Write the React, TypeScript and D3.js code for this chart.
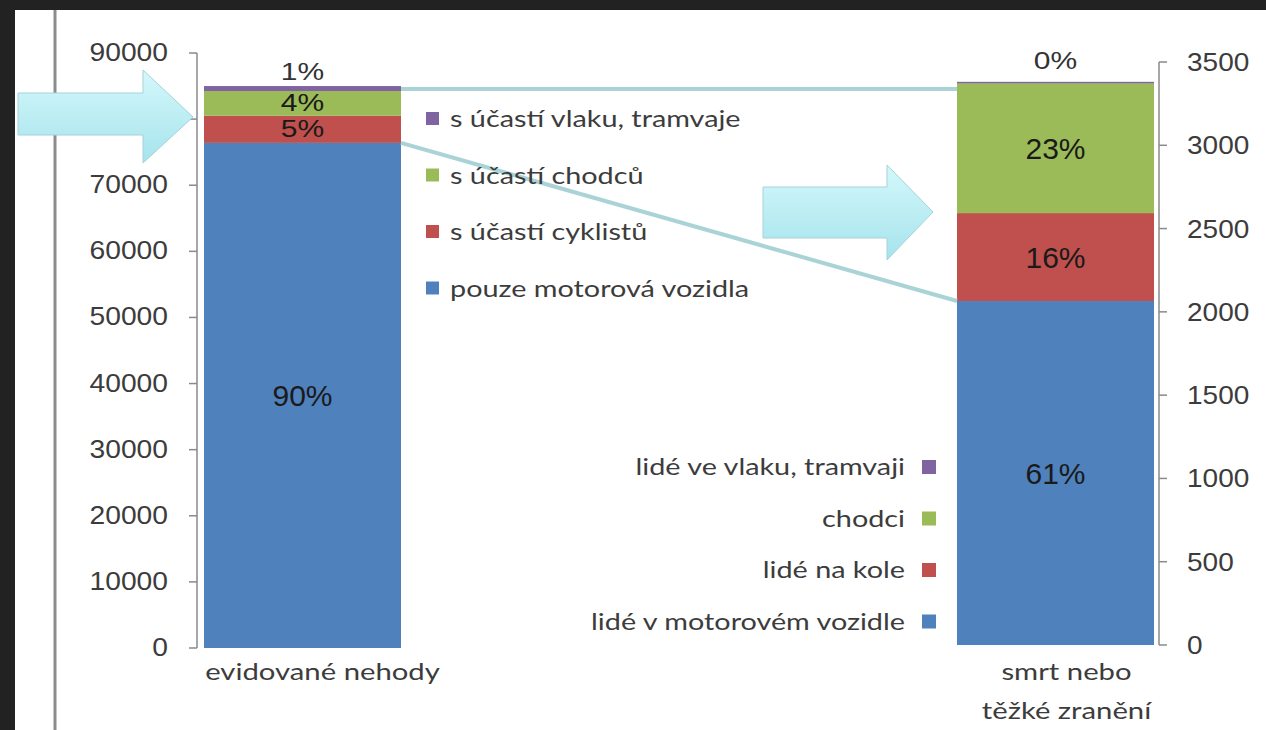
import React from 'react';
import * as d3 from 'd3';

// ---------- data ----------
const categories = ['evidované nehody', 'smrt nebo těžké zranění'];
const categoryLines = [['evidované nehody'], ['smrt nebo', 'těžké zranění']];
const seriesKeys = ['motor', 'cyklisti', 'chodci', 'vlak'];
const accidentsValues = [76400, 4100, 3750, 750];
const casualtiesValues = [2065, 528, 780, 8];
const accidentsPct = ['90%', '5%', '4%', '1%'];
const casualtiesPct = ['61%', '16%', '23%', '0%'];
const leftTicks = [0, 10000, 20000, 30000, 40000, 50000, 60000, 70000, 80000, 90000];
const rightTicks = [0, 500, 1000, 1500, 2000, 2500, 3000, 3500];
const legendLeftLabels = ['s účastí vlaku, tramvaje', 's účastí chodců', 's účastí cyklistů', 'pouze motorová vozidla'];
const legendRightLabels = ['lidé ve vlaku, tramvaji', 'chodci', 'lidé na kole', 'lidé v motorovém vozidle'];
const colors = ['#4f81bd', '#c0504d', '#9bbb59', '#8064a2'];

// ---------- layout ----------
const W = 1266, H = 730;
const yLeft = d3.scaleLinear().domain([0, 90000]).range([648, 53]);
const yRight = d3.scaleLinear().domain([0, 3500]).range([645, 62]);
const xScale = d3.scalePoint<string>().domain(categories).range([302.5, 1055.5]);
const barW = 197;
const leftAxisX = 197;
const rightAxisX = 1159;
const axisColor = '#8a8a8a';
const textColor = '#3c3c3c';
const numFont = '"Liberation Sans", Arial, sans-serif';
const lblFont = 'Lato, "Open Sans", sans-serif';
const lblScale = 1.2;

function stackOf(values: number[]) {
  const row: Record<string, number> = {};
  seriesKeys.forEach((k, i) => (row[k] = values[i]));
  return d3.stack<Record<string, number>>().keys(seriesKeys)([row]);
}

const arrow1 = [[18, 93], [143, 93], [143, 70], [193, 117], [143, 163], [143, 135], [18, 135]];
const arrow2 = [[763, 187], [887, 187], [887, 165], [933, 212], [887, 260], [887, 238], [763, 238]];

export default function App() {
  const bars = [
    { cat: categories[0], stack: stackOf(accidentsValues), y: yLeft, pct: accidentsPct, topOff: 6 },
    { cat: categories[1], stack: stackOf(casualtiesValues), y: yRight, pct: casualtiesPct, topOff: 13 },
  ];
  const line = d3.line();
  const lx = xScale(categories[0])! + barW / 2;
  const rx = xScale(categories[1])! - barW / 2;
  const leftTotal = d3.sum(accidentsValues);
  const topY = yLeft(leftTotal) + 3;

  return (
    <svg width={W} height={H} style={{ position: 'fixed', left: 0, top: 0 }}>
      <defs>
        <linearGradient id="arrowGrad" x1="0" y1="0" x2="0" y2="1">
          <stop offset="0" stopColor="#d4f8fb" />
          <stop offset="1" stopColor="#a6e3ec" />
        </linearGradient>
      </defs>
      <rect x={0} y={0} width={W} height={H} fill="#222222" />
      <rect x={15} y={10} width={W - 15} height={H - 10} fill="#ffffff" />
      <line x1={55} x2={55} y1={10} y2={H} stroke="#8c8c8c" strokeWidth={3} />

      {/* left axis */}
      <line x1={leftAxisX} x2={leftAxisX} y1={yLeft(0)} y2={yLeft(90000)} stroke={axisColor} strokeWidth={1.5} />
      {leftTicks.map(t => (
        <g key={'lt' + t}>
          <line x1={leftAxisX - 8} x2={leftAxisX} y1={yLeft(t)} y2={yLeft(t)} stroke={axisColor} strokeWidth={1.5} />
          <text transform={`translate(168,${yLeft(t) + 8}) scale(1.13,1)`} textAnchor="end" fontFamily={numFont} fontSize={25} fill={textColor}>{t}</text>
        </g>
      ))}
      {/* right axis */}
      <line x1={rightAxisX} x2={rightAxisX} y1={yRight(0)} y2={yRight(3500)} stroke={axisColor} strokeWidth={1.5} />
      {rightTicks.map(t => (
        <g key={'rt' + t}>
          <line x1={rightAxisX} x2={rightAxisX + 8} y1={yRight(t)} y2={yRight(t)} stroke={axisColor} strokeWidth={1.5} />
          <text transform={`translate(1187,${yRight(t) + 9}) scale(1.12,1)`} textAnchor="start" fontFamily={numFont} fontSize={25} fill={textColor}>{t}</text>
        </g>
      ))}

      {/* bars */}
      {bars.map(b => {
        const cx = xScale(b.cat)!;
        return (
          <g key={b.cat}>
            {b.stack.map((s, i) => {
              const [y0, y1] = s[0];
              return <rect key={s.key} x={cx - barW / 2} y={b.y(y1)} width={barW} height={Math.max(b.y(y0) - b.y(y1), 1.5)} fill={colors[i]} />;
            })}
            {b.stack.map((s, i) => {
              const [y0, y1] = s[0];
              const isTop = i === b.stack.length - 1;
              const big = b.y(y0) - b.y(y1) > 60;
              const ty = isTop ? b.y(y1) - b.topOff : (b.y(y0) + b.y(y1)) / 2 + (big ? 11 : 8);
              const sx = big ? 1 : 1.25;
              return (
                <text key={'p' + s.key} transform={`translate(${cx},${ty}) scale(${sx},1)`} textAnchor="middle"
                  fontFamily={numFont} fontSize={big ? 30 : 24} fill={isTop ? '#333' : '#1a1a1a'}>{b.pct[i]}</text>
              );
            })}
          </g>
        );
      })}

      {/* connector lines */}
      <path d={line([[lx, topY], [rx, topY]])!} stroke="#a9d3d6" strokeWidth={4} fill="none" />
      <path d={line([[lx, yLeft(accidentsValues[0])], [rx, yRight(casualtiesValues[0])]])!} stroke="#a9d3d6" strokeWidth={4} fill="none" />

      {/* arrows */}
      <polygon points={arrow1.map(p => p.join(',')).join(' ')} fill="url(#arrowGrad)" stroke="#a5d2da" strokeWidth={1} />
      <polygon points={arrow2.map(p => p.join(',')).join(' ')} fill="url(#arrowGrad)" stroke="#a5d2da" strokeWidth={1} />

      {/* left legend (top to bottom: train, pedestrians, cyclists, motor) */}
      {legendLeftLabels.map((l, i) => {
        const cy = 119 + i * 56.5;
        return (
          <g key={'ll' + i}>
            <rect x={426} y={cy - 7} width={13} height={13} fill={colors[3 - i]} />
            <text transform={`translate(450,${cy + 8}) scale(${lblScale},1)`} fontFamily={lblFont} fontSize={24} fill={textColor}>{l}</text>
          </g>
        );
      })}
      {/* right legend */}
      {legendRightLabels.map((l, i) => {
        const cy = 467 + i * 51.5;
        return (
          <g key={'rl' + i}>
            <rect x={922} y={cy - 7} width={14} height={14} fill={colors[3 - i]} />
            <text transform={`translate(905,${cy + 8}) scale(${lblScale},1)`} textAnchor="end" fontFamily={lblFont} fontSize={24} fill={textColor}>{l}</text>
          </g>
        );
      })}

      {/* category labels */}
      {categoryLines.map((lines, ci) =>
        lines.map((ln, li) => (
          <text key={'c' + ci + '-' + li}
            transform={`translate(${xScale(categories[ci])! + (ci === 0 ? 20 : 11)},${680 + li * 39}) scale(1.22,1)`}
            textAnchor="middle" fontFamily={lblFont} fontSize={24} fill={textColor}>{ln}</text>
        ))
      )}
    </svg>
  );
}
